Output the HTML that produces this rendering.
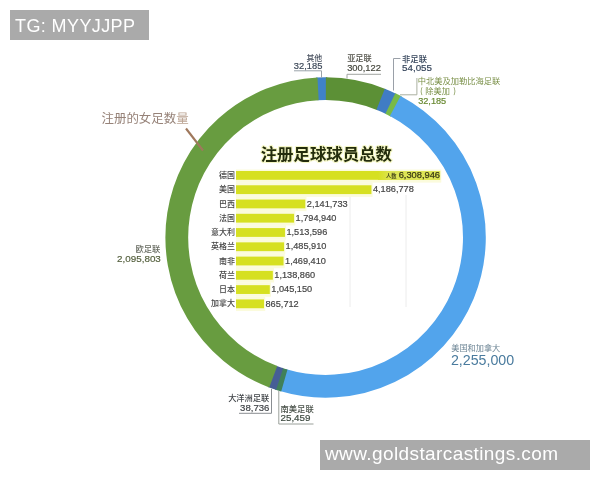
<!DOCTYPE html>
<html><head><meta charset="utf-8"><style>
html,body{margin:0;padding:0;background:#fff;}
body{width:600px;height:480px;overflow:hidden;position:relative;}
svg{position:absolute;left:0;top:0;will-change:transform;}
text{font-family:"Liberation Sans","Noto Sans CJK SC",sans-serif;}
.lbl{font-family:"Noto Sans CJK SC",sans-serif;font-size:8px;font-weight:500;fill:#444;}
.val{font-size:9.2px;fill:#454545;stroke:#454545;stroke-width:0.2px;}
.val0{font-size:9.3px;fill:#3a3a14;stroke:#3a3a14;stroke-width:0.25px;}
.ren{font-family:"Noto Sans CJK SC",sans-serif;font-size:5.3px;font-weight:700;fill:#4e4e1c;}
.wm{will-change:transform;position:absolute;background:#aaaaaa;color:#fff;font-family:"Liberation Sans",sans-serif;}
</style></head><body>
<svg width="600" height="480" viewBox="0 0 600 480">
<defs><linearGradient id="g0" x1="378" x2="392" y1="0" y2="0" gradientUnits="userSpaceOnUse"><stop offset="0" stop-color="#d6e021"/><stop offset="1" stop-color="#dee556"/></linearGradient></defs>
<path d="M316.78,88.96 A148.8,148.8 0 0 1 327.16,88.71" stroke="#3f82c8" stroke-width="22.8" fill="none"/>
<path d="M325.86,88.70 A148.8,148.8 0 0 1 381.82,99.73" stroke="#5c9036" stroke-width="22.8" fill="none"/>
<path d="M380.62,99.25 A148.8,148.8 0 0 1 391.53,104.10" stroke="#407cc4" stroke-width="22.8" fill="none"/>
<path d="M390.36,103.53 A148.8,148.8 0 0 1 396.37,106.61" stroke="#78ba48" stroke-width="22.8" fill="none"/>
<path d="M395.23,106.00 A148.8,148.8 0 0 1 283.09,380.10" stroke="#52a4ec" stroke-width="22.8" fill="none"/>
<path d="M284.34,380.46 A148.8,148.8 0 0 1 278.39,378.61" stroke="#40805a" stroke-width="22.8" fill="none"/>
<path d="M279.62,379.02 A148.8,148.8 0 0 1 272.03,376.32" stroke="#465e96" stroke-width="22.8" fill="none"/>
<path d="M273.25,376.79 A148.8,148.8 0 0 1 318.07,88.89" stroke="#689c40" stroke-width="22.8" fill="none"/>
<line x1="350" y1="195" x2="350" y2="307" stroke="#ececec" stroke-width="1"/>
<line x1="406" y1="195" x2="406" y2="307" stroke="#ececec" stroke-width="1"/>
<rect x="236.0" y="169.50" width="205.29" height="13.10" fill="#fbfbdc"/>
<rect x="236.0" y="182.47" width="136.64" height="14.40" fill="#fbfbdc"/>
<rect x="236.0" y="196.74" width="70.49" height="14.40" fill="#fbfbdc"/>
<rect x="236.0" y="211.01" width="59.27" height="14.40" fill="#fbfbdc"/>
<rect x="236.0" y="225.28" width="50.16" height="14.40" fill="#fbfbdc"/>
<rect x="236.0" y="239.55" width="49.27" height="14.40" fill="#fbfbdc"/>
<rect x="236.0" y="253.82" width="48.74" height="14.40" fill="#fbfbdc"/>
<rect x="236.0" y="268.09" width="38.04" height="14.40" fill="#fbfbdc"/>
<rect x="236.0" y="282.36" width="35.01" height="14.40" fill="#fbfbdc"/>
<rect x="236.0" y="296.63" width="29.21" height="14.40" fill="#fbfbdc"/>
<rect x="236.0" y="171.00" width="204.09" height="8.8" fill="#d6e021"/>
<text x="235" y="178.00" class="lbl" text-anchor="end">德国</text>
<rect x="378" y="171.00" width="62.09" height="8.8" fill="url(#g0)"/>
<text x="440" y="178.30" class="val0" text-anchor="end">6,308,946</text>
<text x="396.5" y="178.40" class="ren" text-anchor="end">人数</text>
<rect x="236.0" y="185.27" width="135.44" height="8.8" fill="#d6e021"/>
<text x="235" y="192.27" class="lbl" text-anchor="end">美国</text>
<text x="372.94" y="192.37" class="val">4,186,778</text>
<rect x="236.0" y="199.54" width="69.29" height="8.8" fill="#d6e021"/>
<text x="235" y="206.54" class="lbl" text-anchor="end">巴西</text>
<text x="306.79" y="206.64" class="val">2,141,733</text>
<rect x="236.0" y="213.81" width="58.07" height="8.8" fill="#d6e021"/>
<text x="235" y="220.81" class="lbl" text-anchor="end">法国</text>
<text x="295.57" y="220.91" class="val">1,794,940</text>
<rect x="236.0" y="228.08" width="48.96" height="8.8" fill="#d6e021"/>
<text x="235" y="235.08" class="lbl" text-anchor="end">意大利</text>
<text x="286.46" y="235.18" class="val">1,513,596</text>
<rect x="236.0" y="242.35" width="48.07" height="8.8" fill="#d6e021"/>
<text x="235" y="249.35" class="lbl" text-anchor="end">英格兰</text>
<text x="285.57" y="249.45" class="val">1,485,910</text>
<rect x="236.0" y="256.62" width="47.54" height="8.8" fill="#d6e021"/>
<text x="235" y="263.62" class="lbl" text-anchor="end">南非</text>
<text x="285.04" y="263.72" class="val">1,469,410</text>
<rect x="236.0" y="270.89" width="36.84" height="8.8" fill="#d6e021"/>
<text x="235" y="277.89" class="lbl" text-anchor="end">荷兰</text>
<text x="274.34" y="277.99" class="val">1,138,860</text>
<rect x="236.0" y="285.16" width="33.81" height="8.8" fill="#d6e021"/>
<text x="235" y="292.16" class="lbl" text-anchor="end">日本</text>
<text x="271.31" y="292.26" class="val">1,045,150</text>
<rect x="236.0" y="299.43" width="28.01" height="8.8" fill="#d6e021"/>
<text x="235" y="306.43" class="lbl" text-anchor="end">加拿大</text>
<text x="265.51" y="306.53" class="val">865,712</text>
<text x="306.44" y="60.51" style="font-family:'Noto Sans CJK SC',sans-serif;font-size:7.92px;font-weight:500;fill:#4a5260;">其他</text>
<text x="293.83" y="68.75" style="font-family:'Liberation Sans',sans-serif;font-size:9.34px;font-weight:400;fill:#3c4858;stroke:#3c4858;stroke-width:0.2px;">32,185</text>
<polyline points="294,70.8 321.5,70.8 321.5,78" stroke="#9aa3aa" stroke-width="1" fill="none"/>
<text x="347.13" y="60.77" style="font-family:'Noto Sans CJK SC',sans-serif;font-size:8.22px;font-weight:500;fill:#505048;">亚足联</text>
<text x="347.13" y="70.50" style="font-family:'Liberation Sans',sans-serif;font-size:9.36px;font-weight:400;fill:#46483e;stroke:#46483e;stroke-width:0.2px;">300,122</text>
<polyline points="381,74.3 347,74.3 347,78.5" stroke="#a0a4a0" stroke-width="1" fill="none"/>
<text x="402.04" y="61.85" style="font-family:'Noto Sans CJK SC',sans-serif;font-size:8.32px;font-weight:500;fill:#34445a;">非足联</text>
<text x="402.11" y="71.25" style="font-family:'Liberation Sans',sans-serif;font-size:9.75px;font-weight:400;fill:#34445a;stroke:#34445a;stroke-width:0.2px;">54,055</text>
<polyline points="400.5,58.5 393.5,58.5 393.5,90.5" stroke="#9aa0a8" stroke-width="1" fill="none"/>
<text x="417.71" y="83.82" style="font-family:'Noto Sans CJK SC',sans-serif;font-size:8.28px;font-weight:400;fill:#7a9048;">中北美及加勒比海足联</text>
<text y="93.6" style="font-family:'Noto Sans CJK SC',sans-serif;font-size:8.2px;fill:#7a9048;"><tspan x="420">(</tspan><tspan x="425.3">除美加</tspan><tspan x="453.3">)</tspan></text>
<text x="418.13" y="104.00" style="font-family:'Liberation Sans',sans-serif;font-size:9.18px;font-weight:400;fill:#6a8a34;stroke:#6a8a34;stroke-width:0.2px;">32,185</text>
<polyline points="400,94.8 416.9,94.8 416.9,78" stroke="#aab0a0" stroke-width="1" fill="none"/>
<text x="135.38" y="251.63" style="font-family:'Noto Sans CJK SC',sans-serif;font-size:8.30px;font-weight:500;fill:#686c62;">欧足联</text>
<text x="117.11" y="261.60" style="font-family:'Liberation Sans',sans-serif;font-size:9.83px;font-weight:400;fill:#55603e;stroke:#55603e;stroke-width:0.2px;">2,095,803</text>
<text x="451.23" y="350.97" style="font-family:'Noto Sans CJK SC',sans-serif;font-size:8.19px;font-weight:400;fill:#6d8595;">美国和加拿大</text>
<text x="450.89" y="365.00" style="font-family:'Liberation Sans',sans-serif;font-size:14.22px;font-weight:400;fill:#4a7b9e;stroke:none;">2,255,000</text>
<text x="228.13" y="400.86" style="font-family:'Noto Sans CJK SC',sans-serif;font-size:8.23px;font-weight:500;fill:#404448;">大洋洲足联</text>
<text x="240.12" y="410.50" style="font-family:'Liberation Sans',sans-serif;font-size:9.58px;font-weight:400;fill:#404448;stroke:#404448;stroke-width:0.2px;">38,736</text>
<polyline points="239,413.3 271.5,413.3 271.5,389" stroke="#8a8e92" stroke-width="1" fill="none"/>
<text x="280.50" y="411.64" style="font-family:'Noto Sans CJK SC',sans-serif;font-size:8.32px;font-weight:500;fill:#485048;">南美足联</text>
<text x="280.51" y="420.50" style="font-family:'Liberation Sans',sans-serif;font-size:9.80px;font-weight:400;fill:#3e4a40;stroke:#3e4a40;stroke-width:0.2px;">25,459</text>
<polyline points="278.8,391 278.8,424 313.5,424" stroke="#9aa09a" stroke-width="1" fill="none"/>
<text x="101.44" y="123.02" style="font-family:'Noto Sans CJK SC',sans-serif;font-size:12.47px;font-weight:400;fill:#968278;">注册的女足数<tspan style="fill:#bba493">量</tspan></text>
<line x1="186" y1="128.5" x2="203" y2="150.5" stroke="#9f785c" stroke-width="2.1"/>
<text x="260.68" y="160.20" style="font-family:'Noto Sans CJK SC',sans-serif;font-size:16.43px;font-weight:700;fill:#232c0c;stroke:#f4f6c4;stroke-width:2.2px;paint-order:stroke;stroke-linejoin:round;">注册足球球员总数</text>
</svg>
<div class="wm" style="left:10px;top:10px;width:139px;height:30px;"><span style="position:absolute;left:5px;top:6px;font-size:18px;line-height:20px;white-space:nowrap;letter-spacing:0.4px;">TG: MYYJJPP</span></div>
<div class="wm" style="left:320px;top:440px;width:270px;height:30px;"><span style="position:absolute;left:5px;top:3.5px;font-size:19px;line-height:20px;white-space:nowrap;letter-spacing:0.4px;">www.goldstarcastings.com</span></div>
</body></html>
